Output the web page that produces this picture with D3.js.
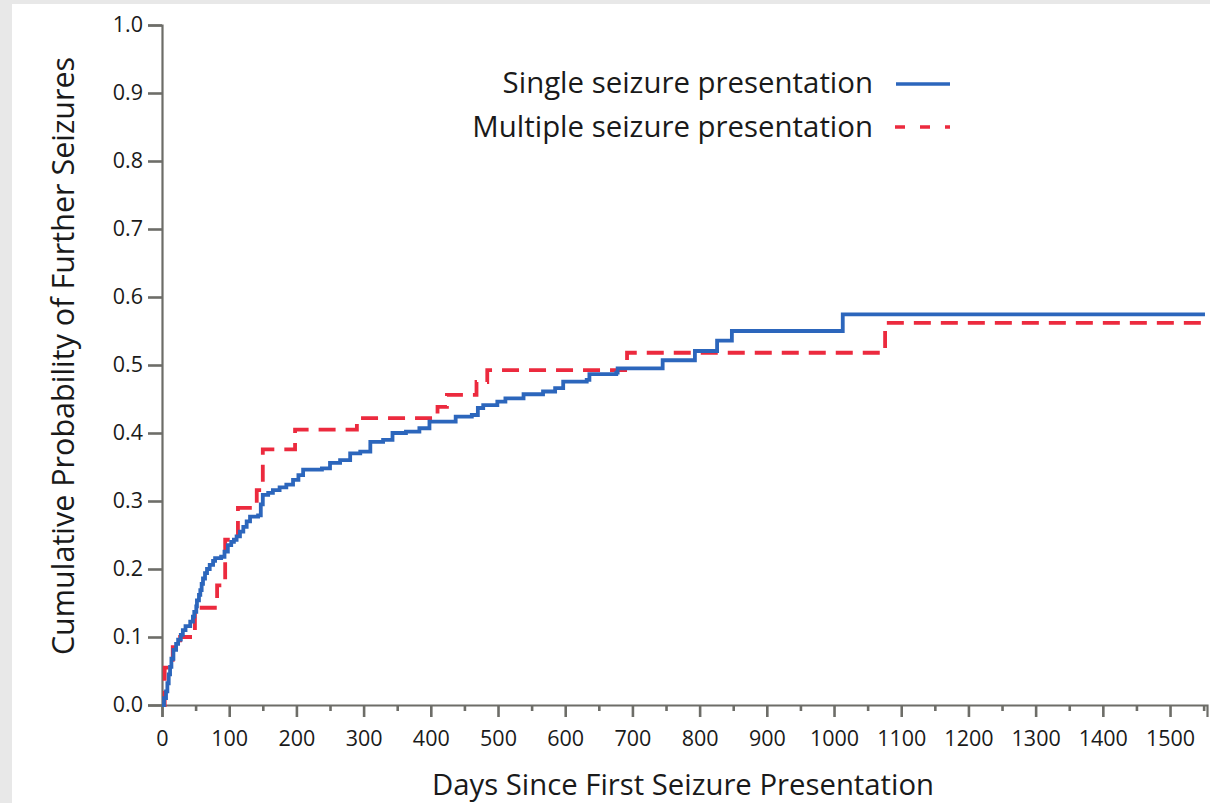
<!DOCTYPE html>
<html><head><meta charset="utf-8">
<script src="https://cdn.jsdelivr.net/npm/d3@7"></script>
<style>
html,body{margin:0;padding:0;background:#e8e8e8;}
svg{display:block;}
text{font-family:"Open Sans",sans-serif;fill:#1a1a1a;}
</style></head>
<body>
<svg id="chart" width="1210" height="803"></svg>
<script>
// ---- data ----
const xTicks = [0,100,200,300,400,500,600,700,800,900,1000,1100,1200,1300,1400,1500];
const xMinorTicks = [50,150,250,350,450,550,650,750,850,950,1050,1150,1250,1350,1450,1550];
const yTicks = [0,0.1,0.2,0.3,0.4,0.5,0.6,0.7,0.8,0.9,1.0];
const seriesNames = ["Single seizure presentation","Multiple seizure presentation"];

const singleDays = [0,3,6,8,10,12,14,17,21,24,28,31,35,42,46,48,51,52,55,57,59,61,64,67,71,76,79,88,93,98,103,107,111,116,121,126,131,143,147,150,158,165,175,185,195,203,210,238,250,265,280,295,310,329,343,363,383,398,437,461,470,478,499,511,538,567,585,597,632,636,676,678,745,793,826,848,1013,1552];
const singleProb = [0,0.01,0.02,0.032,0.045,0.056,0.068,0.081,0.09,0.096,0.103,0.11,0.116,0.1225,0.13,0.137,0.145,0.154,0.162,0.169,0.178,0.186,0.194,0.2,0.206,0.212,0.216,0.218,0.2255,0.235,0.24,0.243,0.248,0.255,0.262,0.27,0.277,0.279,0.295,0.309,0.312,0.316,0.32,0.324,0.331,0.338,0.346,0.348,0.356,0.36,0.37,0.3725,0.387,0.39,0.4,0.402,0.407,0.4167,0.424,0.4265,0.4368,0.441,0.446,0.451,0.457,0.461,0.466,0.4755,0.478,0.4867,0.4887,0.495,0.507,0.5206,0.5358,0.55,0.5745,0.5745];

const multipleDays = [0,4,16,27,49,82,94,113,141,150,198,290,410,424,468,484,692,1076,1552];
const multipleProb = [0,0.055,0.085,0.1,0.143,0.176,0.243,0.29,0.316,0.376,0.405,0.422,0.4385,0.456,0.475,0.4926,0.518,0.562,0.562];

// ---- layout ----
const svg = d3.select("#chart");
svg.append("rect").attr("x",12).attr("y",4).attr("width",1198).attr("height",799).attr("fill","#ffffff");

const x = d3.scaleLinear().domain([0,1555]).range([162,1207]);
const y = d3.scaleLinear().domain([0,1]).range([705,25]);
const axisColor = "#6d6d68";

// x axis
const gx = svg.append("g").attr("transform","translate(0,705)");
gx.call(d3.axisBottom(x).tickValues(xTicks).tickSize(12).tickPadding(14).tickFormat(d3.format("d")));
const gxm = svg.append("g").attr("transform","translate(0,705)");
gxm.call(d3.axisBottom(x).tickValues(xMinorTicks).tickSize(6).tickFormat(""));
gxm.select(".domain").remove();
// y axis
const gy = svg.append("g").attr("transform","translate(162,0)");
gy.call(d3.axisLeft(y).tickValues(yTicks).tickSize(14).tickPadding(5).tickFormat(d3.format(".1f")));

svg.selectAll(".domain").attr("stroke",axisColor).attr("stroke-width",2.2);
svg.selectAll(".tick line").attr("stroke",axisColor).attr("stroke-width",2.6);
svg.selectAll(".tick text").style("font-family","'Open Sans',sans-serif").style("font-size","21.5px").attr("fill","#1a1a1a");

// axis titles
svg.append("text").attr("x",683).attr("y",795).attr("text-anchor","middle")
  .style("font-size","29.3px").text("Days Since First Seizure Presentation");
svg.append("text").attr("transform","translate(74,356) rotate(-90)").attr("text-anchor","middle")
  .style("font-size","30.5px").text("Cumulative Probability of Further Seizures");

// lines
const line = d3.line().x(d=>x(d[0])).y(d=>y(d[1])).curve(d3.curveStepAfter);
const singleData = singleDays.map((d,i)=>[d,singleProb[i]]);
const multipleData = multipleDays.map((d,i)=>[d,multipleProb[i]]);

svg.append("path").datum(multipleData).attr("d",line).attr("fill","none")
  .attr("stroke","#ec2a3e").attr("stroke-width",3.8).attr("stroke-dasharray","17,10");
svg.append("path").datum(singleData).attr("d",line).attr("fill","none")
  .attr("stroke","#2c66bc").attr("stroke-width",3.8);

// legend
const lg = svg.append("g");
lg.append("text").attr("x",873).attr("y",93).attr("text-anchor","end").style("font-size","29.4px").text(seriesNames[0]);
lg.append("text").attr("x",873).attr("y",137).attr("text-anchor","end").style("font-size","29.4px").text(seriesNames[1]);
lg.append("line").attr("x1",896).attr("x2",950).attr("y1",84).attr("y2",84)
  .attr("stroke","#2c66bc").attr("stroke-width",3.5);
lg.append("line").attr("x1",895).attr("x2",950).attr("y1",127).attr("y2",127)
  .attr("stroke","#ec2a3e").attr("stroke-width",3.5).attr("stroke-dasharray","10,15");
</script>
</body></html>
